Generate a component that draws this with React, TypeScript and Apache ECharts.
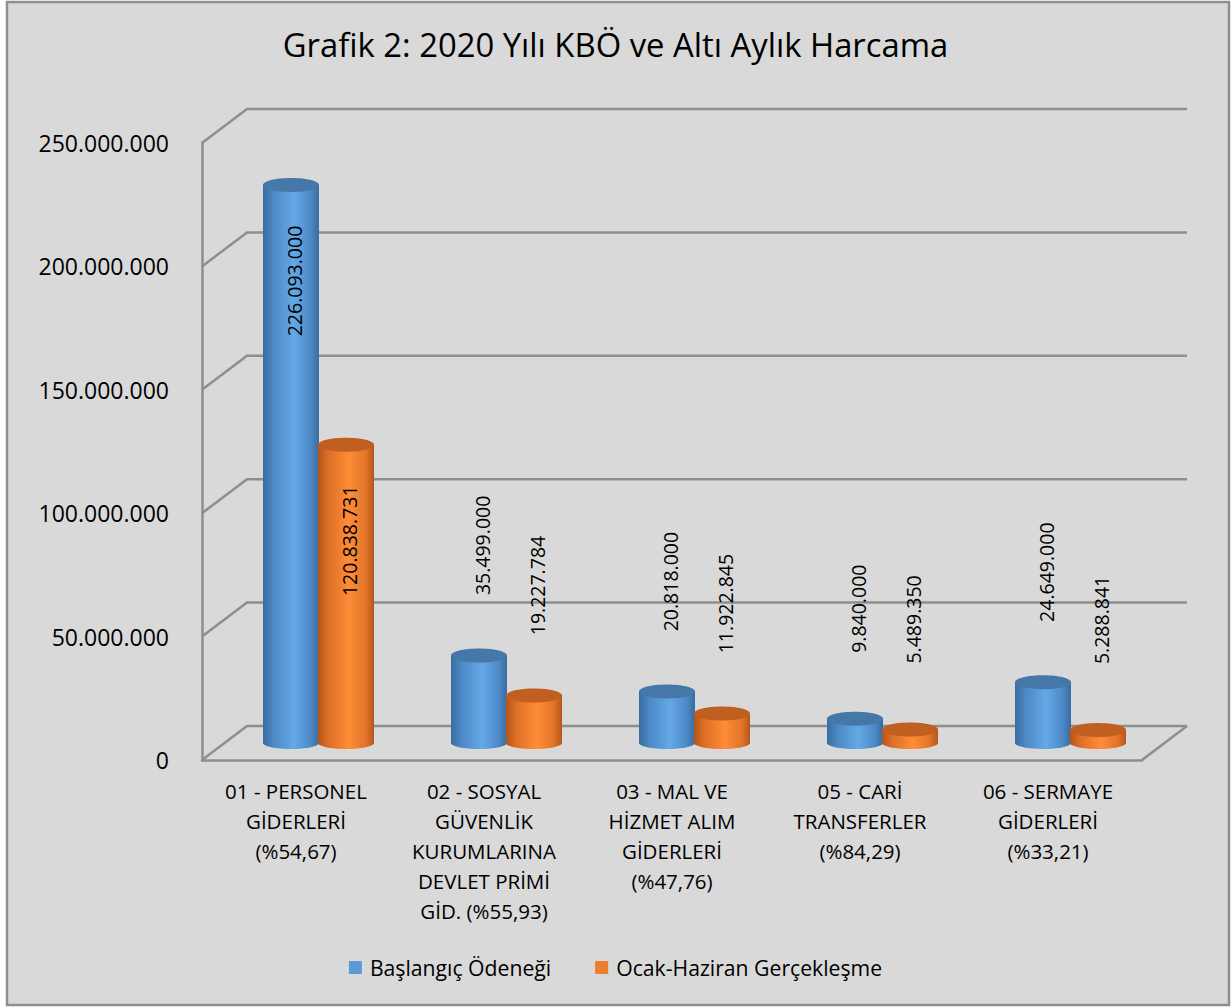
import React, { useEffect, useRef } from 'react';
import * as echarts from 'echarts';

const categories = [
  '01 - PERSONEL\nGİDERLERİ\n(%54,67)',
  '02 - SOSYAL\nGÜVENLİK\nKURUMLARINA\nDEVLET PRİMİ\nGİD. (%55,93)',
  '03 - MAL VE\nHİZMET ALIM\nGİDERLERİ\n(%47,76)',
  '05 - CARİ\nTRANSFERLER\n(%84,29)',
  '06 - SERMAYE\nGİDERLERİ\n(%33,21)',
];
const seriesNames = ['Başlangıç Ödeneği', 'Ocak-Haziran Gerçekleşme'];
const startBudget = [226093000, 35499000, 20818000, 9840000, 24649000];
const realized = [120838731, 19227784, 11922845, 5489350, 5288841];
const yTicks = [0, 50000000, 100000000, 150000000, 200000000, 250000000];
const titleText = 'Grafik 2: 2020 Yılı KBÖ ve Altı Aylık Harcama';

const FONT = "'Open Sans', sans-serif";
const DX = 45;
const DY = 34;
const R = 28;
const GRID_COLOR = '#8E8E8E';

const fmt = (n: number) => String(Math.round(n)).replace(/\B(?=(\d{3})+(?!\d))/g, '.');

const palettes = [
  {
    legend: '#5B9BD5',
    top: '#4577A9',
    stops: [
      [0, '#3A6CA2'],
      [0.18, '#4C88C5'],
      [0.55, '#64A8E6'],
      [0.85, '#4D8AC8'],
      [1, '#3A6BA0'],
    ],
  },
  {
    legend: '#ED7D31',
    top: '#C05F20',
    stops: [
      [0, '#B3541A'],
      [0.18, '#DC6F26'],
      [0.55, '#FF8C37'],
      [0.85, '#E2752B'],
      [1, '#B5551A'],
    ],
  },
];

function makeGradient(stops: any[]) {
  return new echarts.graphic.LinearGradient(
    0, 0, 1, 0,
    stops.map((s) => ({ offset: s[0], color: s[1] }))
  );
}

function barRenderer(slot: number) {
  const pal = palettes[slot];
  const shift = slot === 0 ? -27.5 : 27.5;
  return (params: any, api: any) => {
    const idx = api.value(0);
    const v = api.value(1);
    const top = api.coord([idx, v]);
    const base = api.coord([idx, 0]);
    const cx = top[0] + DX / 2 + shift;
    const ty = top[1] - DY / 2;
    const by = base[1] - DY / 2;
    const inside = v > 100000000;
    const ly = inside ? ty + 96 : ty - 110;
    return {
      type: 'group',
      children: [
        { type: 'ellipse', shape: { cx, cy: by, rx: R, ry: 6 }, style: { fill: makeGradient(pal.stops) } },
        { type: 'rect', shape: { x: cx - R, y: ty, width: 2 * R, height: by - ty }, style: { fill: makeGradient(pal.stops) } },
        { type: 'ellipse', shape: { cx, cy: ty, rx: R, ry: 7 }, style: { fill: pal.top } },
        {
          type: 'text',
          x: cx + 3,
          y: ly,
          rotation: Math.PI / 2,
          style: {
            text: fmt(v),
            fill: '#000',
            fontSize: 19.5,
            fontFamily: FONT,
            align: 'center',
            verticalAlign: 'middle',
          },
        },
      ],
    };
  };
}

function frameRenderer(params: any, api: any) {
  const v = api.value(1);
  const cs = params.coordSys;
  const y = api.coord([0, v])[1];
  const x0 = cs.x;
  const x1 = cs.x + cs.width;
  const st = { stroke: GRID_COLOR, lineWidth: 2.5, fill: null };
  const children: any[] = [
    { type: 'polyline', shape: { points: [[x0, y], [x0 + DX, y - DY], [x1 + DX, y - DY]] }, style: st },
  ];
  if (v === 0) {
    children.push({ type: 'line', shape: { x1: x1, y1: y, x2: x1 + DX, y2: y - DY }, style: st });
  }
  return { type: 'group', children };
}

export default function App() {
  const ref = useRef<HTMLDivElement>(null);
  useEffect(() => {
    if (!ref.current) return;
    const chart = echarts.init(ref.current, null, { renderer: 'svg' });
    chart.setOption({
      animation: false,
      backgroundColor: '#ffffff',
      graphic: [
        {
          type: 'rect',
          z: -10,
          shape: { x: 7, y: 2, width: 1222, height: 1003 },
          style: { fill: '#D9D9D9', stroke: '#8F8F8F', lineWidth: 2.5 },
        },
      ],
      title: {
        text: titleText,
        left: 'center',
        top: 23,
        textStyle: { fontFamily: FONT, fontSize: 32.8, fontWeight: 'normal', color: '#000' },
      },
      legend: {
        left: 'center',
        top: 952,
        icon: 'rect',
        itemWidth: 13,
        itemHeight: 13,
        itemGap: 44,
        textStyle: { fontFamily: FONT, fontSize: 21.2, color: '#000', padding: [0, 0, 0, 3] },
        data: seriesNames.map((n, i) => ({ name: n, itemStyle: { color: palettes[i].legend } })),
      },
      grid: { left: 202, right: 89, top: 143, bottom: 247 },
      xAxis: {
        type: 'category',
        data: categories,
        axisLine: { show: true, lineStyle: { color: GRID_COLOR, width: 2.5 } },
        axisTick: { show: false },
        axisLabel: {
          interval: 0,
          margin: 16,
          fontFamily: FONT,
          fontSize: 20.5,
          lineHeight: 30,
          color: '#000',
        },
      },
      yAxis: {
        type: 'value',
        min: 0,
        max: 250000000,
        interval: 50000000,
        axisLine: { show: true, lineStyle: { color: GRID_COLOR, width: 2.5 } },
        axisTick: { show: false },
        splitLine: { show: false },
        axisLabel: {
          margin: 33,
          fontFamily: FONT,
          fontSize: 23,
          color: '#000',
          formatter: (v: number) => fmt(v),
        },
      },
      series: [
        {
          type: 'custom',
          name: 'frame',
          renderItem: frameRenderer,
          data: yTicks.map((v) => [0, v]),
          silent: true,
          z: 1,
        },
        {
          type: 'custom',
          name: seriesNames[0],
          renderItem: barRenderer(0),
          itemStyle: { color: palettes[0].legend },
          data: startBudget.map((v, i) => [i, v]),
          z: 3,
        },
        {
          type: 'custom',
          name: seriesNames[1],
          renderItem: barRenderer(1),
          itemStyle: { color: palettes[1].legend },
          data: realized.map((v, i) => [i, v]),
          z: 4,
        },
      ],
    });
    return () => chart.dispose();
  }, []);
  return (
    <div
      ref={ref}
      style={{ position: 'absolute', left: 0, top: 0, width: 1231, height: 1007 }}
    />
  );
}
